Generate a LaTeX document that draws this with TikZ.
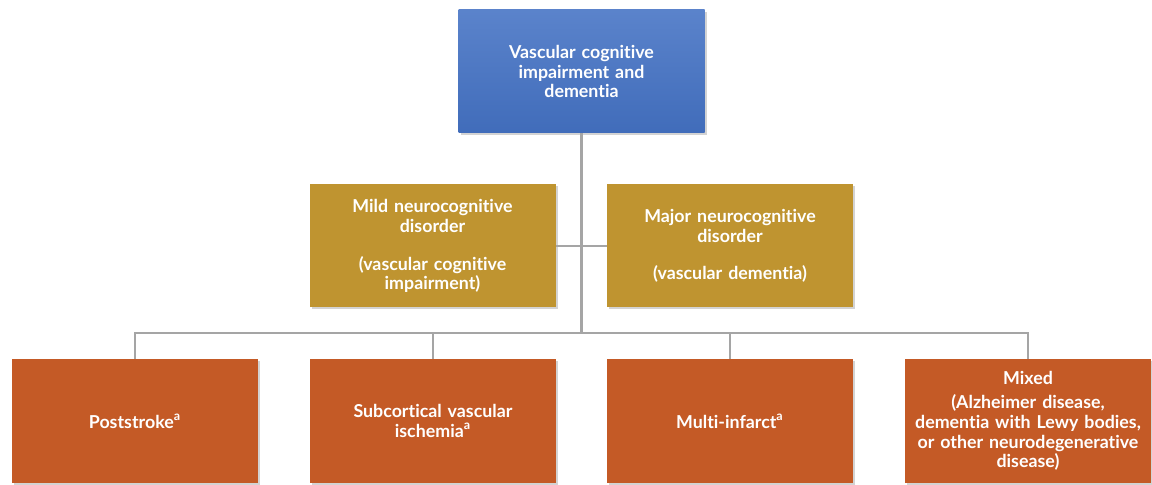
\documentclass[tikz,border=0pt]{standalone}
\usepackage{fontspec}
\setmainfont{Lato}[Ligatures=NoCommon]
\usetikzlibrary{shadows}
\definecolor{vblue}{RGB}{68,114,196}
\definecolor{vgold}{RGB}{191,148,48}
\definecolor{vorange}{RGB}{196,90,38}
\definecolor{vline}{RGB}{165,165,165}
\tikzset{
  box/.style={draw=none, text=white, align=center, inner sep=0pt,
    minimum width=123pt, minimum height=61.5pt, text width=120pt,
    font=\bfseries\fontsize{8.9}{9.9}\selectfont,
    drop shadow={opacity=0.35, shadow xshift=1pt, shadow yshift=-1pt}},
  topbox/.style={box, top color=vblue!88!white, bottom color=vblue!95!black},
  midbox/.style={box, fill=vgold},
  lowbox/.style={box, fill=vorange, minimum height=62pt},
  link/.style={draw=vline, line width=1.3pt}
}
\begin{document}
\begin{tikzpicture}[x=0.5pt, y=-0.5pt]
        \useasboundingbox (0,0) rectangle (1152,485);

        % Cuadro superior
        \node[topbox] (vcid) at (581.5,71.5) {Vascular cognitive\\impairment and\\dementia};

        % Trastornos
        \node[midbox] (mild) at (432.5,246) {Mild neurocognitive\\disorder\\[9pt](vascular cognitive\\impairment)};
        \node[midbox] (major) at (730,246) {Major neurocognitive\\disorder\\[9pt](vascular dementia)};

        % Subtipos
        \node[lowbox] (post) at (135,421) {Poststroke\textsuperscript{a}};
        \node[lowbox] (subc) at (433,421) {Subcortical vascular\\ischemia\textsuperscript{a}};
        \node[lowbox] (multi) at (730,421) {Multi-infarct\textsuperscript{a}};
        \node[lowbox] (mixed) at (1028,421) {Mixed\\[2pt](Alzheimer disease,\\dementia with Lewy bodies,\\or other neurodegenerative\\disease)};

        % Conectores
        \coordinate (bus) at (581.5,333);
        \draw[link] (vcid.south) -- (vcid.south |- bus);
        \draw[link] (mild.east) -- (major.west);
        \draw[link] (post.north) |- (bus) -| (mixed.north);
        \draw[link] (subc.north) -- (subc.north |- bus);
        \draw[link] (multi.north) -- (multi.north |- bus);
\end{tikzpicture}
\end{document}
